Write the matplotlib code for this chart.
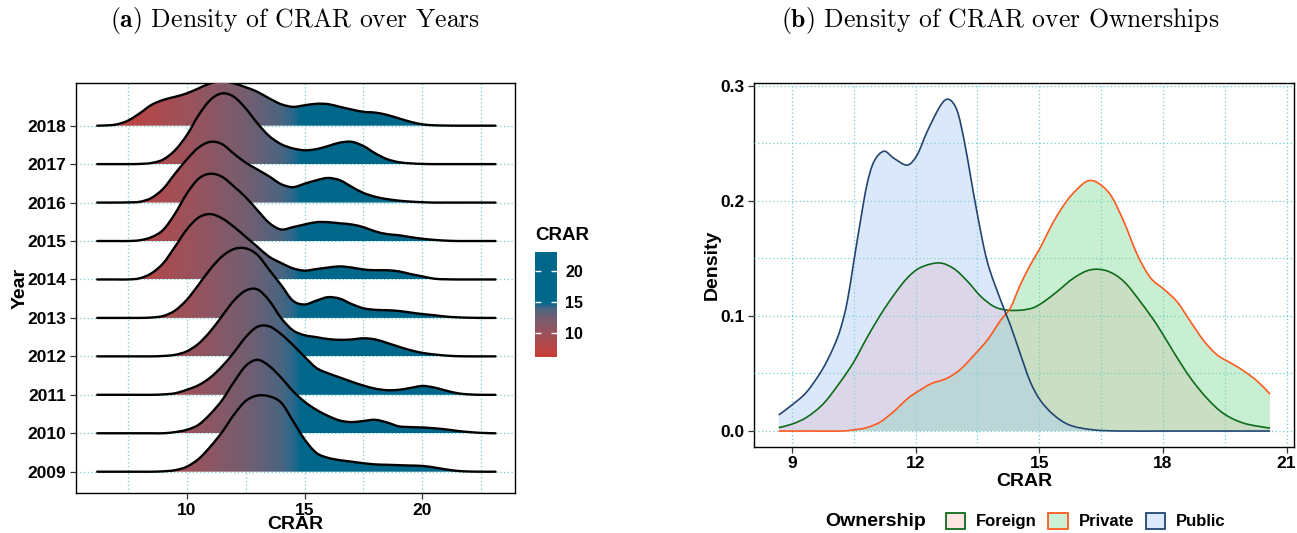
import numpy as np
import matplotlib
matplotlib.use("Agg")
import matplotlib.pyplot as plt
from matplotlib.path import Path
from matplotlib.patches import PathPatch, Patch
from matplotlib.colors import LinearSegmentedColormap

plt.rcParams["font.family"] = ["Liberation Sans", "DejaVu Sans"]
plt.rcParams["font.weight"] = "bold"
plt.rcParams["mathtext.fontset"] = "cm"

# ---- (a) ridgeline data: scaled density heights (in row units) per year ----
YEARS = [2009, 2010, 2011, 2012, 2013, 2014, 2015, 2016, 2017, 2018]
CRAR_GRID = [6.2, 6.5, 7.0, 7.5, 8.0, 8.5, 9.0, 9.5, 10.0, 10.5, 11.0, 11.5,
             12.0, 12.5, 13.0, 13.5, 14.0, 14.5, 15.0, 15.5, 16.0, 16.5, 17.0,
             17.5, 18.0, 18.5, 19.0, 19.5, 20.0, 20.5, 21.0, 21.5, 22.0, 22.5,
             23.0, 23.1]
DENS_2009 = [0, 0, 0, 0, 0, 0, 0.01, 0.04, 0.13, 0.33, 0.65, 1.03, 1.48, 1.84, 1.98, 1.96, 1.80, 1.33,
             0.84, 0.49, 0.36, 0.30, 0.26, 0.22, 0.19, 0.18, 0.17, 0.16, 0.15, 0.11, 0.06, 0.02, 0.005, 0, 0, 0]
DENS_2010 = [0, 0, 0, 0, 0, 0, 0, 0.03, 0.09, 0.22, 0.50, 0.86, 1.33, 1.75, 1.91, 1.75, 1.45, 1.10,
             0.82, 0.61, 0.45, 0.33, 0.29, 0.32, 0.35, 0.28, 0.18, 0.16, 0.15, 0.13, 0.10, 0.06, 0.03, 0.01, 0, 0]
DENS_2011 = [0, 0, 0, 0, 0, 0, 0.01, 0.04, 0.13, 0.25, 0.45, 0.74, 1.10, 1.50, 1.77, 1.78, 1.58, 1.30,
             0.99, 0.70, 0.56, 0.45, 0.34, 0.24, 0.16, 0.12, 0.13, 0.18, 0.23, 0.19, 0.11, 0.04, 0.01, 0, 0, 0]
DENS_2012 = [0, 0, 0, 0, 0, 0, 0.01, 0.04, 0.13, 0.33, 0.65, 1.05, 1.45, 1.71, 1.74, 1.45, 1.00, 0.68,
             0.55, 0.50, 0.45, 0.43, 0.44, 0.47, 0.44, 0.35, 0.25, 0.16, 0.09, 0.05, 0.02, 0.005, 0, 0, 0, 0]
DENS_2013 = [0, 0, 0, 0, 0, 0.01, 0.05, 0.19, 0.47, 0.86, 1.27, 1.60, 1.79, 1.81, 1.64, 1.25, 0.86, 0.45,
             0.35, 0.45, 0.54, 0.50, 0.36, 0.25, 0.21, 0.20, 0.18, 0.14, 0.10, 0.07, 0.035, 0.015, 0.005, 0, 0, 0]
DENS_2014 = [0, 0, 0, 0, 0.03, 0.16, 0.42, 0.85, 1.30, 1.61, 1.70, 1.59, 1.37, 1.11, 0.85, 0.59, 0.43, 0.29,
             0.23, 0.27, 0.31, 0.34, 0.31, 0.26, 0.24, 0.24, 0.21, 0.14, 0.08, 0.02, 0.005, 0, 0, 0, 0, 0]
DENS_2015 = [0, 0, 0, 0, 0.02, 0.10, 0.29, 0.71, 1.23, 1.62, 1.75, 1.67, 1.42, 1.14, 0.80, 0.47, 0.30, 0.36,
             0.43, 0.49, 0.49, 0.46, 0.43, 0.36, 0.25, 0.18, 0.15, 0.10, 0.06, 0.03, 0.01, 0, 0, 0, 0, 0]
DENS_2016 = [0, 0, 0, 0.005, 0.02, 0.12, 0.36, 0.75, 1.12, 1.43, 1.58, 1.52, 1.27, 1.04, 0.86, 0.68, 0.48, 0.40,
             0.49, 0.58, 0.64, 0.58, 0.41, 0.25, 0.15, 0.09, 0.05, 0.025, 0.01, 0, 0, 0, 0, 0, 0, 0]
DENS_2017 = [0, 0, 0, 0, 0.005, 0.03, 0.12, 0.36, 0.75, 1.27, 1.67, 1.84, 1.75, 1.45, 1.06, 0.73, 0.52, 0.41,
             0.36, 0.39, 0.47, 0.56, 0.58, 0.47, 0.28, 0.13, 0.05, 0.02, 0.005, 0, 0, 0, 0, 0, 0, 0]
DENS_2018 = [0, 0.005, 0.03, 0.13, 0.32, 0.54, 0.67, 0.75, 0.84, 0.97, 1.10, 1.16, 1.10, 1.00, 0.88, 0.71, 0.56, 0.49,
             0.53, 0.57, 0.56, 0.49, 0.42, 0.36, 0.34, 0.28, 0.19, 0.10, 0.035, 0.01, 0.003, 0, 0, 0, 0, 0]
YEAR_DENS = [DENS_2009, DENS_2010, DENS_2011, DENS_2012, DENS_2013,
             DENS_2014, DENS_2015, DENS_2016, DENS_2017, DENS_2018]

# fill colour scale for CRAR
CRAR_MIN, CRAR_MAX = 6.17, 23.12
CMAP_VALUES = [6.17, 7.5, 10.0, 12.5, 14.0, 14.5, 14.8, 23.12]
CMAP_COLORS = ["#c83c37", "#bb4444", "#9c525b", "#735e70", "#4a6581", "#27678a", "#00688b", "#00688b"]

# ---- (b) density by ownership ----
OWNERSHIP = ["Foreign", "Private", "Public"]
FOREIGN_X = [8.68, 9.0, 9.36, 9.77, 10.18, 10.5, 10.82, 11.15, 11.47, 11.8, 12.12, 12.57, 12.93, 13.26,
             13.58, 13.91, 14.23, 14.56, 14.85, 15.1, 15.43, 15.84, 16.24, 16.65, 17.05, 17.46, 17.86,
             18.27, 18.67, 19.08, 19.48, 19.97, 20.6]
FOREIGN_Y = [0.003, 0.006, 0.012, 0.024, 0.043, 0.060, 0.081, 0.101, 0.118, 0.133, 0.142, 0.146, 0.141,
             0.130, 0.117, 0.108, 0.105, 0.105, 0.107, 0.112, 0.121, 0.133, 0.140, 0.139, 0.130, 0.112,
             0.092, 0.068, 0.046, 0.028, 0.015, 0.0067, 0.0025]
PRIVATE_X = [8.68, 9.5, 10.2, 10.5, 10.82, 11.15, 11.47, 11.8, 12.04, 12.37, 12.77, 13.1, 13.42, 13.74,
             14.07, 14.3, 14.54, 14.78, 15.02, 15.35, 15.67, 15.92, 16.16, 16.4, 16.73, 17.05, 17.38,
             17.7, 18.03, 18.35, 18.67, 19.0, 19.32, 19.65, 19.97, 20.3, 20.6]
PRIVATE_Y = [0, 0, 0, 0.001, 0.003, 0.008, 0.017, 0.028, 0.034, 0.041, 0.046, 0.054, 0.066, 0.079,
             0.0965, 0.107, 0.127, 0.144, 0.159, 0.182, 0.200, 0.210, 0.217, 0.216, 0.205, 0.182, 0.153,
             0.133, 0.123, 0.112, 0.095, 0.078, 0.066, 0.059, 0.052, 0.043, 0.032]
PUBLIC_X = [8.68, 9.0, 9.36, 9.73, 10.0, 10.18, 10.34, 10.5, 10.66, 10.82, 10.99, 11.23, 11.47, 11.8,
            12.04, 12.28, 12.61, 12.81, 13.01, 13.18, 13.34, 13.5, 13.74, 14.07, 14.3, 14.54, 14.78,
            15.02, 15.35, 15.75, 16.32, 17.0, 18.0, 19.0, 20.0, 20.6]
PUBLIC_Y = [0.014, 0.0226, 0.034, 0.053, 0.072, 0.089, 0.112, 0.147, 0.182, 0.214, 0.234, 0.243, 0.237,
            0.231, 0.240, 0.260, 0.283, 0.288, 0.278, 0.252, 0.220, 0.188, 0.147, 0.113, 0.092, 0.067,
            0.043, 0.027, 0.014, 0.005, 0.001, 0, 0, 0, 0, 0]
OWN_X = [FOREIGN_X, PRIVATE_X, PUBLIC_X]
OWN_Y = [FOREIGN_Y, PRIVATE_Y, PUBLIC_Y]
OWN_LINE = ["#0f6b1c", "#ff5a1f", "#23456f"]
OWN_FILL = ["#ffbbbb", "#80d998", "#aacaf5"]
OWN_KEY = ["#ffe4e4", "#ccf0d6", "#ddeafb"]

GRID_KW = dict(color="#6fcfcf", linestyle=(0, (1, 2)), linewidth=0.9)


def smooth_curve(xs, ys):
    # Catmull-Rom through the read points, as cubic bezier pieces
    pts = np.column_stack([xs, ys]).astype(float)
    ext = np.vstack([pts[0], pts, pts[-1]])
    verts = []
    for i in range(len(pts) - 1):
        p0, p1, p2, p3 = ext[i], ext[i + 1], ext[i + 2], ext[i + 3]
        verts += [p1 + (p2 - p0) / 6, p2 - (p3 - p1) / 6, p2]
    return pts, verts


def line_path(xs, ys):
    pts, verts = smooth_curve(xs, ys)
    return Path([pts[0]] + verts, [Path.MOVETO] + [Path.CURVE4] * len(verts))


def area_path(xs, ys, base):
    pts, verts = smooth_curve(xs, ys)
    v = [(pts[0][0], base), pts[0]] + verts + [(pts[-1][0], base), (pts[0][0], base)]
    c = [Path.MOVETO, Path.LINETO] + [Path.CURVE4] * len(verts) + [Path.LINETO, Path.CLOSEPOLY]
    return Path(v, c)


def style_axis(ax):
    for s in ax.spines.values():
        s.set_color("black")
        s.set_linewidth(1.0)
    ax.tick_params(which="major", length=4, width=0.9, color="#333333", labelsize=12.5, pad=3)
    ax.tick_params(which="minor", length=0)
    for lab in ax.get_xticklabels() + ax.get_yticklabels():
        lab.set_fontweight("bold")


fig = plt.figure(figsize=(12.97, 5.33), dpi=100)

# ---------------- panel (a) ----------------
ax1 = fig.add_axes([76 / 1297, 40 / 533, 439 / 1297, 410 / 533])
ax1.set_axisbelow(True)
stops = [(v - CRAR_MIN) / (CRAR_MAX - CRAR_MIN) for v in CMAP_VALUES]
cmap = LinearSegmentedColormap.from_list("crar", list(zip(stops, CMAP_COLORS)))
grad = np.linspace(CRAR_MIN, CRAR_MAX, 600).reshape(1, -1)

for i, (year, dens) in enumerate(zip(YEARS, YEAR_DENS)):
    base = i
    tops = [base + d for d in dens]
    z = 20 - i
    clip = PathPatch(area_path(CRAR_GRID, tops, base), transform=ax1.transData,
                     facecolor="none", edgecolor="none")
    im = ax1.imshow(grad, extent=[CRAR_MIN, CRAR_MAX, base, base + 2.2], aspect="auto",
                    cmap=cmap, vmin=CRAR_MIN, vmax=CRAR_MAX, origin="lower",
                    interpolation="bilinear", zorder=z)
    im.set_clip_path(clip)
    ax1.add_patch(PathPatch(line_path(CRAR_GRID, tops), fill=False, edgecolor="black",
                            linewidth=1.7, zorder=z + 0.5, capstyle="round"))

ax1.set_xlim(5.3, 23.93)
ax1.set_ylim(-0.554, 10.11)
ax1.set_xticks([10, 15, 20])
ax1.set_xticks([7.5, 12.5, 17.5, 22.5], minor=True)
ax1.set_yticks(range(len(YEARS)))
ax1.set_yticklabels([str(y) for y in YEARS])
ax1.grid(which="both", axis="x", **GRID_KW)
ax1.grid(which="major", axis="y", **GRID_KW)
style_axis(ax1)
ax1.set_xlabel("CRAR", fontsize=14, fontweight="bold", labelpad=-1)
ax1.set_ylabel("Year", fontsize=14, fontweight="bold")
ax1.yaxis.set_label_coords(-0.108, 0.5)

# colourbar
cax = fig.add_axes([535 / 1297, 176 / 533, 22 / 1297, 105 / 533])
cax.imshow(grad.T, extent=[0, 1, CRAR_MIN, CRAR_MAX], aspect="auto", cmap=cmap,
           vmin=CRAR_MIN, vmax=CRAR_MAX, origin="lower")
cax.set_xlim(0, 1)
cax.set_ylim(CRAR_MIN, CRAR_MAX)
cax.set_xticks([])
cax.set_yticks([10, 15, 20])
cax.tick_params(axis="y", direction="in", length=4, width=1, color="white",
                left=True, right=True, labelleft=False, labelright=True, labelsize=11.5, pad=6)
for lab in cax.get_yticklabels():
    lab.set_fontweight("bold")
for s in cax.spines.values():
    s.set_visible(False)
fig.text(535 / 1297, 1 - 235 / 533, "CRAR", fontsize=13.5, fontweight="bold", ha="left", va="center")

# ---------------- panel (b) ----------------
ax2 = fig.add_axes([754 / 1297, 86.3 / 533, 540 / 1297, 363.4 / 533])
for k, name in enumerate(OWNERSHIP):
    ax2.add_patch(PathPatch(area_path(OWN_X[k], OWN_Y[k], 0), facecolor=OWN_FILL[k],
                            edgecolor="none", alpha=0.42, zorder=2 + k))
for k, name in enumerate(OWNERSHIP):
    ax2.add_patch(PathPatch(line_path(OWN_X[k], OWN_Y[k]), fill=False, edgecolor=OWN_LINE[k],
                            linewidth=1.2, zorder=6 + k))
ax2.set_xlim(8.08, 21.18)
ax2.set_ylim(-0.0136, 0.302)
ax2.set_xticks([9, 12, 15, 18, 21])
ax2.set_xticks([10.5, 13.5, 16.5, 19.5], minor=True)
ax2.set_yticks([0, 0.1, 0.2, 0.3])
ax2.set_yticklabels(["0.0", "0.1", "0.2", "0.3"])
ax2.set_yticks([0.05, 0.15, 0.25], minor=True)
ax2.grid(which="both", **GRID_KW)
for gl in ax2.get_xgridlines() + ax2.get_ygridlines():
    gl.set_zorder(1.5)
ax2.set_axisbelow(False)
style_axis(ax2)
ax2.set_xlabel("CRAR", fontsize=14, fontweight="bold", labelpad=1)
ax2.set_ylabel("Density", fontsize=14, fontweight="bold")
ax2.yaxis.set_label_coords(-0.062, 0.5)

# legend
fig.text(825 / 1297, 1 - 521 / 533, "Ownership", fontsize=14, fontweight="bold", ha="left", va="center")
handles = [Patch(facecolor=OWN_KEY[k], edgecolor=OWN_LINE[k], linewidth=1.3) for k in range(3)]
fig.legend(handles, OWNERSHIP, loc="center left", bbox_to_anchor=(946 / 1297, 1 - 521 / 533),
           ncol=3, frameon=False, handlelength=1.15, handleheight=1.15, handletextpad=0.65,
           columnspacing=0.7, borderaxespad=0, borderpad=0,
           prop=dict(weight="bold", size=12))

# titles
fig.text(295 / 1297, 1 - 20 / 533, r"$\mathbf{(a)}$ Density of CRAR over Years",
         family="cmr10", fontweight="normal", fontsize=18.5, ha="center", va="center")
fig.text(1000 / 1297, 1 - 20 / 533, r"$\mathbf{(b)}$ Density of CRAR over Ownerships",
         family="cmr10", fontweight="normal", fontsize=18.5, ha="center", va="center")

fig.savefig("out.png", dpi=100)
